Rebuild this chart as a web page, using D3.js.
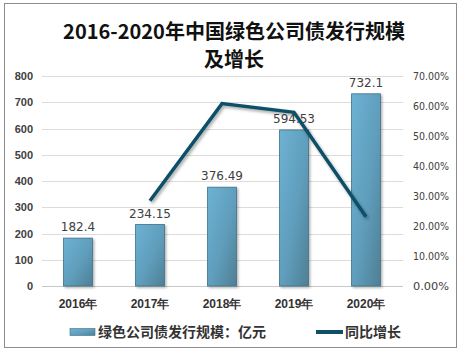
<!DOCTYPE html>
<html>
<head>
<meta charset="utf-8">
<script src="https://cdn.jsdelivr.net/npm/d3@7"></script>
<style>
    body { margin: 0; background: #fff; }
    svg { display: block; font-family: "Noto Sans CJK SC", "Liberation Sans", sans-serif; }
</style>
</head>
<body>
<svg id="chart"></svg>
<script>
// data
const years = ["2016年", "2017年", "2018年", "2019年", "2020年"];
const issued = [182.4, 234.15, 376.49, 594.53, 732.1];
const growth = [null, 28.4, 60.8, 57.9, 23.1]; // percent
const leftTicks = [0, 100, 200, 300, 400, 500, 600, 700, 800];
const rightTicks = [0, 10, 20, 30, 40, 50, 60, 70];
const titleLines = ["2016-2020年中国绿色公司债发行规模", "及增长"];

const width = 461, height = 353;
const margin = { top: 76, right: 58, bottom: 67, left: 42 };
const svg = d3.select("#chart").attr("width", width).attr("height", height);

// outer frame
svg.append("rect")
    .attr("x", 4.5).attr("y", 3.5)
    .attr("width", 452).attr("height", 344)
    .attr("fill", "#fff")
    .attr("stroke", "#8c8c8c")
    .attr("stroke-width", 1);

// title, two lines
svg.append("g")
    .selectAll("text")
    .data(titleLines)
    .join("text")
    .attr("x", 234)
    .attr("y", (d, i) => 39 + i * 28)
    .attr("text-anchor", "middle")
    .attr("font-size", 20)
    .attr("font-weight", "bold")
    .attr("fill", "#111")
    .text(d => d);

// scales
const x = d3.scaleBand()
    .domain(years)
    .range([margin.left, width - margin.right - 1])
    .paddingInner(0.6)
    .paddingOuter(0.3);
const y = d3.scaleLinear()
    .domain([0, 800])
    .range([height - margin.bottom, margin.top]);
const y2 = d3.scaleLinear()
    .domain([0, 70])
    .range([height - margin.bottom, margin.top]);

// gridlines
svg.append("g")
    .selectAll("line")
    .data(leftTicks)
    .join("line")
    .attr("x1", margin.left)
    .attr("x2", width - margin.right)
    .attr("y1", d => Math.round(y(d)) + 0.5)
    .attr("y2", d => Math.round(y(d)) + 0.5)
    .attr("stroke", d => d === 0 ? "#c8c8c8" : "#dcdcdc")
    .attr("stroke-width", 1);

// left axis
svg.append("g")
    .attr("transform", `translate(${margin.left - 9},0)`)
    .call(d3.axisLeft(y).tickValues(leftTicks).tickSize(0).tickPadding(0))
    .call(g => g.select(".domain").remove())
    .selectAll("text")
    .attr("font-size", 11)
    .attr("font-weight", "bold")
    .attr("fill", "#404040")
    .attr("font-family", "\"Liberation Sans\", sans-serif");

// right axis
svg.append("g")
    .attr("transform", `translate(${width - margin.right + 10},0)`)
    .call(d3.axisRight(y2).tickValues(rightTicks).tickSize(0).tickPadding(0)
        .tickFormat(d => d.toFixed(2) + "%"))
    .call(g => g.select(".domain").remove())
    .selectAll("text")
    .attr("font-size", 11)
    .attr("fill", "#404040")
    .attr("font-family", "\"DejaVu Sans\", sans-serif")
    .attr("textLength", 36)
    .attr("lengthAdjust", "spacingAndGlyphs");

// x axis labels
svg.append("g")
    .attr("transform", `translate(0,${height - margin.bottom})`)
    .call(d3.axisBottom(x).tickSize(0).tickPadding(13))
    .call(g => g.select(".domain").remove())
    .selectAll("text")
    .attr("font-size", 12)
    .attr("font-weight", "bold")
    .attr("fill", "#333");

// bar gradient
const defs = svg.append("defs");
const grad = defs.append("linearGradient")
    .attr("id", "barGrad")
    .attr("x1", "0%").attr("y1", "0%")
    .attr("x2", "100%").attr("y2", "100%");
grad.append("stop").attr("offset", "0%").attr("stop-color", "#6db2d4");
grad.append("stop").attr("offset", "55%").attr("stop-color", "#5f9dbb");
grad.append("stop").attr("offset", "100%").attr("stop-color", "#4f7f94");

const shadow = defs.append("filter").attr("id", "shadow")
    .attr("x", "-20%").attr("y", "-10%").attr("width", "150%").attr("height", "130%");
shadow.append("feDropShadow")
    .attr("dx", 1.5).attr("dy", 1.5).attr("stdDeviation", 1.2)
    .attr("flood-color", "#000").attr("flood-opacity", 0.3);

// bars
svg.append("g")
    .selectAll("rect")
    .data(issued)
    .join("rect")
    .attr("x", (d, i) => x(years[i]))
    .attr("y", d => y(d))
    .attr("width", x.bandwidth())
    .attr("height", d => y(0) - y(d))
    .attr("fill", "url(#barGrad)")
    .attr("stroke", "#3f7088")
    .attr("stroke-width", 0.8)
    .attr("filter", "url(#shadow)");

// bar value labels
svg.append("g")
    .selectAll("text")
    .data(issued)
    .join("text")
    .attr("x", (d, i) => x(years[i]) + x.bandwidth() / 2)
    .attr("y", d => y(d) - 7)
    .attr("text-anchor", "middle")
    .attr("font-size", 12)
    .attr("fill", "#404040")
    .attr("font-family", "\"DejaVu Sans\", sans-serif")
    .text(d => d);

// growth line
const line = d3.line()
    .defined(d => d !== null)
    .x((d, i) => x(years[i]) + x.bandwidth() / 2)
    .y(d => y2(d));
const lineShadow = defs.append("filter").attr("id", "lineShadow")
    .attr("x", "-10%").attr("y", "-10%").attr("width", "130%").attr("height", "130%");
lineShadow.append("feDropShadow")
    .attr("dx", 1.5).attr("dy", 2).attr("stdDeviation", 1.5)
    .attr("flood-color", "#000").attr("flood-opacity", 0.35);
svg.append("path")
    .datum(growth)
    .attr("d", line)
    .attr("fill", "none")
    .attr("stroke", "#0f5066")
    .attr("stroke-width", 3.5)
    .attr("stroke-linejoin", "miter")
    .attr("filter", "url(#lineShadow)");

// legend
const lg = svg.append("g").attr("transform", "translate(0,332)");
lg.append("rect")
    .attr("x", 70).attr("y", -3.5)
    .attr("width", 25).attr("height", 7)
    .attr("fill", "url(#barGrad)")
    .attr("stroke", "#3f7088")
    .attr("stroke-width", 0.6);
lg.append("text")
    .attr("x", 98).attr("y", 0)
    .attr("dy", "0.35em")
    .attr("font-size", 14)
    .attr("font-weight", "bold")
    .attr("fill", "#333")
    .text("绿色公司债发行规模：亿元");
lg.append("line")
    .attr("x1", 316).attr("x2", 343)
    .attr("y1", 0).attr("y2", 0)
    .attr("stroke", "#0f5066")
    .attr("stroke-width", 4);
lg.append("text")
    .attr("x", 345).attr("y", 0)
    .attr("dy", "0.35em")
    .attr("font-size", 14)
    .attr("font-weight", "bold")
    .attr("fill", "#333")
    .text("同比增长");
</script>
</body>
</html>
